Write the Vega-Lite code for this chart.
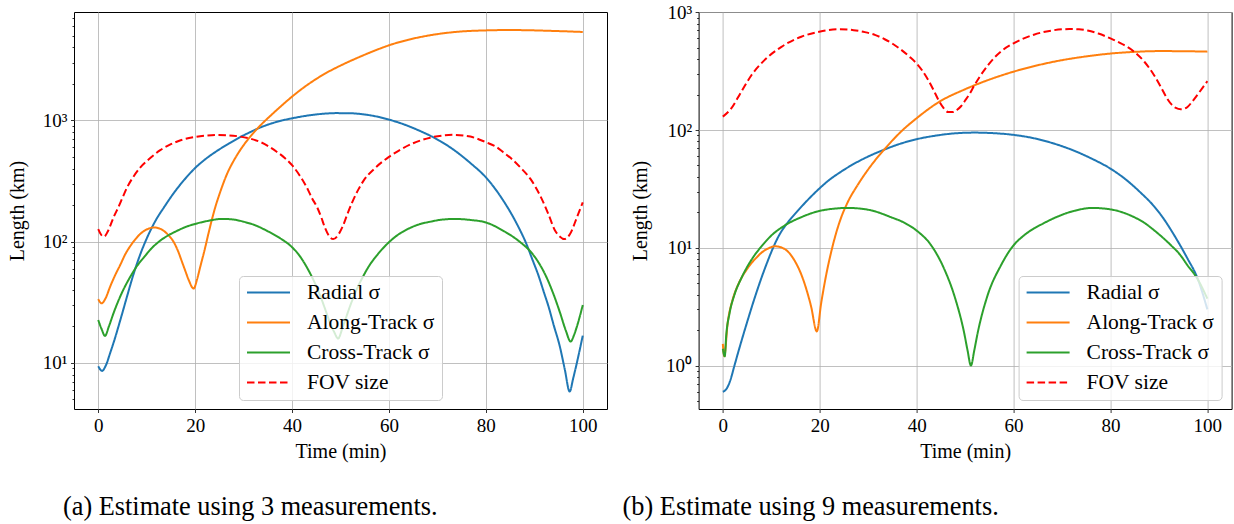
{
  "$schema": "https://vega.github.io/schema/vega-lite/v6.json",
  "background": "white",
  "padding": {"left": 6, "top": 2, "right": 0, "bottom": 0},
  "bounds": "flush",
  "spacing": 91.6,
  "datasets": {
    "a": [
      {"t":0,"v":9.4,"s":"Radial σ"},{"t":0.8,"v":8.6,"s":"Radial σ"},{"t":1.5,"v":9.4,"s":"Radial σ"},{"t":2.5,"v":12.2,"s":"Radial σ"},{"t":3.5,"v":16.2,"s":"Radial σ"},{"t":4.3,"v":20.8,"s":"Radial σ"},{"t":5,"v":26,"s":"Radial σ"},{"t":6,"v":36,"s":"Radial σ"},{"t":7,"v":49.5,"s":"Radial σ"},{"t":8,"v":66,"s":"Radial σ"},{"t":9,"v":85,"s":"Radial σ"},{"t":10,"v":106,"s":"Radial σ"},{"t":11,"v":129,"s":"Radial σ"},{"t":12.2,"v":158,"s":"Radial σ"},{"t":13.5,"v":190,"s":"Radial σ"},{"t":15.6,"v":252,"s":"Radial σ"},{"t":18,"v":332,"s":"Radial σ"},{"t":20,"v":405,"s":"Radial σ"},{"t":22,"v":475,"s":"Radial σ"},{"t":24.5,"v":560,"s":"Radial σ"},{"t":27,"v":645,"s":"Radial σ"},{"t":29.3,"v":728,"s":"Radial σ"},{"t":31.5,"v":805,"s":"Radial σ"},{"t":33.5,"v":875,"s":"Radial σ"},{"t":36,"v":950,"s":"Radial σ"},{"t":38,"v":1000,"s":"Radial σ"},{"t":40,"v":1040,"s":"Radial σ"},{"t":43,"v":1093,"s":"Radial σ"},{"t":46,"v":1130,"s":"Radial σ"},{"t":49,"v":1148,"s":"Radial σ"},{"t":52,"v":1145,"s":"Radial σ"},{"t":55,"v":1118,"s":"Radial σ"},{"t":58,"v":1065,"s":"Radial σ"},{"t":60,"v":1015,"s":"Radial σ"},{"t":62,"v":960,"s":"Radial σ"},{"t":64.4,"v":885,"s":"Radial σ"},{"t":66.5,"v":815,"s":"Radial σ"},{"t":68.5,"v":748,"s":"Radial σ"},{"t":71,"v":660,"s":"Radial σ"},{"t":74,"v":548,"s":"Radial σ"},{"t":76.8,"v":445,"s":"Radial σ"},{"t":80,"v":339,"s":"Radial σ"},{"t":83.6,"v":218,"s":"Radial σ"},{"t":86.4,"v":140,"s":"Radial σ"},{"t":88.5,"v":93,"s":"Radial σ"},{"t":89.5,"v":73,"s":"Radial σ"},{"t":90.9,"v":52,"s":"Radial σ"},{"t":92,"v":38,"s":"Radial σ"},{"t":92.9,"v":29.5,"s":"Radial σ"},{"t":94,"v":20.5,"s":"Radial σ"},{"t":95.3,"v":13.5,"s":"Radial σ"},{"t":96.3,"v":8.8,"s":"Radial σ"},{"t":97.3,"v":5.8,"s":"Radial σ"},{"t":98,"v":7.4,"s":"Radial σ"},{"t":98.8,"v":10.1,"s":"Radial σ"},{"t":100,"v":16.8,"s":"Radial σ"},
      {"t":0,"v":33.6,"s":"Along-Track σ"},{"t":0.7,"v":31,"s":"Along-Track σ"},{"t":1.5,"v":34,"s":"Along-Track σ"},{"t":2.5,"v":43,"s":"Along-Track σ"},{"t":3.5,"v":53,"s":"Along-Track σ"},{"t":4.6,"v":65,"s":"Along-Track σ"},{"t":5.6,"v":79,"s":"Along-Track σ"},{"t":6.7,"v":93,"s":"Along-Track σ"},{"t":7.7,"v":105,"s":"Along-Track σ"},{"t":8.7,"v":116,"s":"Along-Track σ"},{"t":10,"v":126,"s":"Along-Track σ"},{"t":11.5,"v":131,"s":"Along-Track σ"},{"t":12.5,"v":129,"s":"Along-Track σ"},{"t":13.5,"v":123,"s":"Along-Track σ"},{"t":14.5,"v":113,"s":"Along-Track σ"},{"t":15.6,"v":99,"s":"Along-Track σ"},{"t":16.5,"v":83,"s":"Along-Track σ"},{"t":17.3,"v":68,"s":"Along-Track σ"},{"t":18,"v":57,"s":"Along-Track σ"},{"t":18.7,"v":48,"s":"Along-Track σ"},{"t":19.7,"v":41,"s":"Along-Track σ"},{"t":20.4,"v":49,"s":"Along-Track σ"},{"t":21.1,"v":63,"s":"Along-Track σ"},{"t":22,"v":87,"s":"Along-Track σ"},{"t":22.8,"v":119,"s":"Along-Track σ"},{"t":23.6,"v":160,"s":"Along-Track σ"},{"t":24.2,"v":195,"s":"Along-Track σ"},{"t":25,"v":245,"s":"Along-Track σ"},{"t":26.6,"v":363,"s":"Along-Track σ"},{"t":28,"v":468,"s":"Along-Track σ"},{"t":29.3,"v":569,"s":"Along-Track σ"},{"t":30.5,"v":664,"s":"Along-Track σ"},{"t":32,"v":785,"s":"Along-Track σ"},{"t":33.5,"v":912,"s":"Along-Track σ"},{"t":36,"v":1135,"s":"Along-Track σ"},{"t":38,"v":1340,"s":"Along-Track σ"},{"t":40,"v":1570,"s":"Along-Track σ"},{"t":42,"v":1816,"s":"Along-Track σ"},{"t":44.5,"v":2133,"s":"Along-Track σ"},{"t":47,"v":2455,"s":"Along-Track σ"},{"t":50,"v":2831,"s":"Along-Track σ"},{"t":53,"v":3214,"s":"Along-Track σ"},{"t":56,"v":3614,"s":"Along-Track σ"},{"t":60,"v":4159,"s":"Along-Track σ"},{"t":64,"v":4624,"s":"Along-Track σ"},{"t":68.5,"v":5035,"s":"Along-Track σ"},{"t":72,"v":5272,"s":"Along-Track σ"},{"t":76,"v":5445,"s":"Along-Track σ"},{"t":80,"v":5521,"s":"Along-Track σ"},{"t":84,"v":5559,"s":"Along-Track σ"},{"t":88,"v":5546,"s":"Along-Track σ"},{"t":92,"v":5495,"s":"Along-Track σ"},{"t":96,"v":5433,"s":"Along-Track σ"},{"t":100,"v":5358,"s":"Along-Track σ"},
      {"t":0,"v":22.6,"s":"Cross-Track σ"},{"t":0.7,"v":19,"s":"Cross-Track σ"},{"t":1.4,"v":16.7,"s":"Cross-Track σ"},{"t":2.2,"v":20,"s":"Cross-Track σ"},{"t":3.2,"v":26,"s":"Cross-Track σ"},{"t":4.9,"v":38,"s":"Cross-Track σ"},{"t":6.7,"v":52,"s":"Cross-Track σ"},{"t":8,"v":63,"s":"Cross-Track σ"},{"t":9.4,"v":74,"s":"Cross-Track σ"},{"t":11,"v":88,"s":"Cross-Track σ"},{"t":12.8,"v":102,"s":"Cross-Track σ"},{"t":14.5,"v":113,"s":"Cross-Track σ"},{"t":16.3,"v":123,"s":"Cross-Track σ"},{"t":18,"v":132,"s":"Cross-Track σ"},{"t":20,"v":140,"s":"Cross-Track σ"},{"t":22.5,"v":148,"s":"Cross-Track σ"},{"t":25.6,"v":154,"s":"Cross-Track σ"},{"t":28,"v":152,"s":"Cross-Track σ"},{"t":30,"v":146,"s":"Cross-Track σ"},{"t":32.5,"v":136,"s":"Cross-Track σ"},{"t":34.8,"v":123,"s":"Cross-Track σ"},{"t":37.5,"v":107,"s":"Cross-Track σ"},{"t":40,"v":90,"s":"Cross-Track σ"},{"t":41.5,"v":77,"s":"Cross-Track σ"},{"t":43,"v":62,"s":"Cross-Track σ"},{"t":44.5,"v":47.5,"s":"Cross-Track σ"},{"t":45.8,"v":36,"s":"Cross-Track σ"},{"t":46.8,"v":28,"s":"Cross-Track σ"},{"t":47.8,"v":21.6,"s":"Cross-Track σ"},{"t":48.7,"v":18,"s":"Cross-Track σ"},{"t":49.5,"v":15.9,"s":"Cross-Track σ"},{"t":50.5,"v":20,"s":"Cross-Track σ"},{"t":52,"v":29.6,"s":"Cross-Track σ"},{"t":53.3,"v":40,"s":"Cross-Track σ"},{"t":54.7,"v":52,"s":"Cross-Track σ"},{"t":56,"v":64,"s":"Cross-Track σ"},{"t":57.5,"v":77,"s":"Cross-Track σ"},{"t":60,"v":99,"s":"Cross-Track σ"},{"t":62,"v":115,"s":"Cross-Track σ"},{"t":63.7,"v":126,"s":"Cross-Track σ"},{"t":66,"v":138,"s":"Cross-Track σ"},{"t":68.5,"v":146,"s":"Cross-Track σ"},{"t":71,"v":152,"s":"Cross-Track σ"},{"t":73.6,"v":154,"s":"Cross-Track σ"},{"t":76.8,"v":151,"s":"Cross-Track σ"},{"t":80,"v":144,"s":"Cross-Track σ"},{"t":83.6,"v":123,"s":"Cross-Track σ"},{"t":87.1,"v":99,"s":"Cross-Track σ"},{"t":89.2,"v":83,"s":"Cross-Track σ"},{"t":90.5,"v":71,"s":"Cross-Track σ"},{"t":92.6,"v":50,"s":"Cross-Track σ"},{"t":94,"v":36.5,"s":"Cross-Track σ"},{"t":95.3,"v":26,"s":"Cross-Track σ"},{"t":96.5,"v":18.5,"s":"Cross-Track σ"},{"t":97.5,"v":15,"s":"Cross-Track σ"},{"t":98.2,"v":17,"s":"Cross-Track σ"},{"t":98.8,"v":20,"s":"Cross-Track σ"},{"t":100,"v":30,"s":"Cross-Track σ"},
      {"t":0,"v":127,"s":"FOV size"},{"t":0.6,"v":114,"s":"FOV size"},{"t":1.2,"v":110,"s":"FOV size"},{"t":2,"v":122,"s":"FOV size"},{"t":3.2,"v":160,"s":"FOV size"},{"t":4.3,"v":198,"s":"FOV size"},{"t":5,"v":230,"s":"FOV size"},{"t":6,"v":282,"s":"FOV size"},{"t":7.3,"v":345,"s":"FOV size"},{"t":8.7,"v":410,"s":"FOV size"},{"t":10.5,"v":480,"s":"FOV size"},{"t":12.8,"v":568,"s":"FOV size"},{"t":15,"v":636,"s":"FOV size"},{"t":17,"v":686,"s":"FOV size"},{"t":20,"v":730,"s":"FOV size"},{"t":22.5,"v":750,"s":"FOV size"},{"t":24.5,"v":757,"s":"FOV size"},{"t":27,"v":752,"s":"FOV size"},{"t":29.3,"v":735,"s":"FOV size"},{"t":31.5,"v":705,"s":"FOV size"},{"t":33.5,"v":662,"s":"FOV size"},{"t":35.2,"v":610,"s":"FOV size"},{"t":36.9,"v":549,"s":"FOV size"},{"t":38.5,"v":490,"s":"FOV size"},{"t":40,"v":427,"s":"FOV size"},{"t":41.5,"v":355,"s":"FOV size"},{"t":43,"v":282,"s":"FOV size"},{"t":44.2,"v":225,"s":"FOV size"},{"t":45.1,"v":195,"s":"FOV size"},{"t":46,"v":160,"s":"FOV size"},{"t":46.8,"v":130,"s":"FOV size"},{"t":47.6,"v":112,"s":"FOV size"},{"t":48.5,"v":105,"s":"FOV size"},{"t":49.6,"v":115,"s":"FOV size"},{"t":50.5,"v":135,"s":"FOV size"},{"t":51.4,"v":168,"s":"FOV size"},{"t":52.5,"v":215,"s":"FOV size"},{"t":53.7,"v":270,"s":"FOV size"},{"t":54.8,"v":320,"s":"FOV size"},{"t":57,"v":400,"s":"FOV size"},{"t":60,"v":500,"s":"FOV size"},{"t":62.5,"v":578,"s":"FOV size"},{"t":65,"v":648,"s":"FOV size"},{"t":68.5,"v":720,"s":"FOV size"},{"t":71,"v":750,"s":"FOV size"},{"t":73.3,"v":760,"s":"FOV size"},{"t":76.8,"v":735,"s":"FOV size"},{"t":80,"v":661,"s":"FOV size"},{"t":82,"v":610,"s":"FOV size"},{"t":83.6,"v":546,"s":"FOV size"},{"t":85.5,"v":475,"s":"FOV size"},{"t":87.1,"v":410,"s":"FOV size"},{"t":89.2,"v":329,"s":"FOV size"},{"t":91.2,"v":240,"s":"FOV size"},{"t":92.9,"v":169,"s":"FOV size"},{"t":94.3,"v":123,"s":"FOV size"},{"t":95.3,"v":110,"s":"FOV size"},{"t":96.2,"v":105,"s":"FOV size"},{"t":97.4,"v":116,"s":"FOV size"},{"t":98.8,"v":159,"s":"FOV size"},{"t":100,"v":211,"s":"FOV size"}
    ],
    "b": [
      {"t":0,"v":0.6,"s":"Radial σ"},{"t":0.7,"v":0.63,"s":"Radial σ"},{"t":1.5,"v":0.74,"s":"Radial σ"},{"t":2.4,"v":1.0,"s":"Radial σ"},{"t":3.2,"v":1.31,"s":"Radial σ"},{"t":4,"v":1.7,"s":"Radial σ"},{"t":5,"v":2.33,"s":"Radial σ"},{"t":6,"v":3.17,"s":"Radial σ"},{"t":7,"v":4.25,"s":"Radial σ"},{"t":8,"v":5.6,"s":"Radial σ"},{"t":9,"v":7.24,"s":"Radial σ"},{"t":10,"v":9.2,"s":"Radial σ"},{"t":11,"v":11.4,"s":"Radial σ"},{"t":12,"v":13.6,"s":"Radial σ"},{"t":13,"v":15.6,"s":"Radial σ"},{"t":14,"v":17.6,"s":"Radial σ"},{"t":15.5,"v":20.7,"s":"Radial σ"},{"t":17,"v":24.2,"s":"Radial σ"},{"t":18.5,"v":28,"s":"Radial σ"},{"t":20,"v":32.1,"s":"Radial σ"},{"t":22,"v":37.8,"s":"Radial σ"},{"t":24,"v":43.2,"s":"Radial σ"},{"t":26.5,"v":50.1,"s":"Radial σ"},{"t":30,"v":59.6,"s":"Radial σ"},{"t":33.4,"v":68.4,"s":"Radial σ"},{"t":36,"v":75,"s":"Radial σ"},{"t":40,"v":83.6,"s":"Radial σ"},{"t":44,"v":89.7,"s":"Radial σ"},{"t":48,"v":93.8,"s":"Radial σ"},{"t":52,"v":95.1,"s":"Radial σ"},{"t":56,"v":94,"s":"Radial σ"},{"t":60,"v":91,"s":"Radial σ"},{"t":64,"v":85.5,"s":"Radial σ"},{"t":68,"v":77.5,"s":"Radial σ"},{"t":72,"v":68,"s":"Radial σ"},{"t":76,"v":57.5,"s":"Radial σ"},{"t":80,"v":47,"s":"Radial σ"},{"t":83,"v":38.5,"s":"Radial σ"},{"t":86,"v":30,"s":"Radial σ"},{"t":89,"v":22.5,"s":"Radial σ"},{"t":91,"v":17.6,"s":"Radial σ"},{"t":93,"v":13.1,"s":"Radial σ"},{"t":95.9,"v":8.1,"s":"Radial σ"},{"t":97.9,"v":5.6,"s":"Radial σ"},{"t":100,"v":3.0,"s":"Radial σ"},
      {"t":0,"v":1.53,"s":"Along-Track σ"},{"t":0.3,"v":1.2,"s":"Along-Track σ"},{"t":1,"v":2.3,"s":"Along-Track σ"},{"t":2,"v":3.6,"s":"Along-Track σ"},{"t":3,"v":4.7,"s":"Along-Track σ"},{"t":4,"v":5.7,"s":"Along-Track σ"},{"t":5,"v":6.6,"s":"Along-Track σ"},{"t":6,"v":7.5,"s":"Along-Track σ"},{"t":7,"v":8.3,"s":"Along-Track σ"},{"t":8,"v":9.1,"s":"Along-Track σ"},{"t":9,"v":9.7,"s":"Along-Track σ"},{"t":10.8,"v":10.3,"s":"Along-Track σ"},{"t":12.7,"v":9.8,"s":"Along-Track σ"},{"t":14.8,"v":7.8,"s":"Along-Track σ"},{"t":16.5,"v":5.5,"s":"Along-Track σ"},{"t":18.2,"v":3.2,"s":"Along-Track σ"},{"t":19.4,"v":1.95,"s":"Along-Track σ"},{"t":20.3,"v":3.4,"s":"Along-Track σ"},{"t":21.3,"v":5.8,"s":"Along-Track σ"},{"t":22.7,"v":10.5,"s":"Along-Track σ"},{"t":24.1,"v":16.6,"s":"Along-Track σ"},{"t":25.8,"v":24.5,"s":"Along-Track σ"},{"t":27.8,"v":34,"s":"Along-Track σ"},{"t":30.6,"v":50,"s":"Along-Track σ"},{"t":33.4,"v":69,"s":"Along-Track σ"},{"t":36.9,"v":98,"s":"Along-Track σ"},{"t":40,"v":126,"s":"Along-Track σ"},{"t":44.5,"v":172,"s":"Along-Track σ"},{"t":50,"v":222,"s":"Along-Track σ"},{"t":55,"v":268,"s":"Along-Track σ"},{"t":60,"v":313,"s":"Along-Track σ"},{"t":65,"v":355,"s":"Along-Track σ"},{"t":70,"v":392,"s":"Along-Track σ"},{"t":75,"v":422,"s":"Along-Track σ"},{"t":80,"v":446,"s":"Along-Track σ"},{"t":85,"v":461,"s":"Along-Track σ"},{"t":90,"v":468,"s":"Along-Track σ"},{"t":95,"v":467,"s":"Along-Track σ"},{"t":100,"v":463,"s":"Along-Track σ"},
      {"t":0,"v":1.39,"s":"Cross-Track σ"},{"t":0.4,"v":1.2,"s":"Cross-Track σ"},{"t":0.7,"v":1.8,"s":"Cross-Track σ"},{"t":1.4,"v":2.8,"s":"Cross-Track σ"},{"t":2.4,"v":4.0,"s":"Cross-Track σ"},{"t":3.8,"v":5.5,"s":"Cross-Track σ"},{"t":5.9,"v":7.9,"s":"Cross-Track σ"},{"t":7.9,"v":10.2,"s":"Cross-Track σ"},{"t":10,"v":12.7,"s":"Cross-Track σ"},{"t":12.8,"v":15.5,"s":"Cross-Track σ"},{"t":16.2,"v":18.2,"s":"Cross-Track σ"},{"t":19.6,"v":20.4,"s":"Cross-Track σ"},{"t":22.5,"v":21.4,"s":"Cross-Track σ"},{"t":25.8,"v":21.8,"s":"Cross-Track σ"},{"t":28.5,"v":21.5,"s":"Cross-Track σ"},{"t":30.6,"v":20.8,"s":"Cross-Track σ"},{"t":34.7,"v":18.2,"s":"Cross-Track σ"},{"t":37.5,"v":16.3,"s":"Cross-Track σ"},{"t":40,"v":14,"s":"Cross-Track σ"},{"t":43,"v":10.5,"s":"Cross-Track σ"},{"t":45.7,"v":6.6,"s":"Cross-Track σ"},{"t":47.8,"v":3.9,"s":"Cross-Track σ"},{"t":49.8,"v":1.9,"s":"Cross-Track σ"},{"t":50.5,"v":1.35,"s":"Cross-Track σ"},{"t":51.2,"v":1.0,"s":"Cross-Track σ"},{"t":51.9,"v":1.35,"s":"Cross-Track σ"},{"t":52.6,"v":1.9,"s":"Cross-Track σ"},{"t":54.6,"v":3.9,"s":"Cross-Track σ"},{"t":57.4,"v":7.1,"s":"Cross-Track σ"},{"t":60,"v":10.5,"s":"Cross-Track σ"},{"t":62,"v":12.6,"s":"Cross-Track σ"},{"t":64.2,"v":14.6,"s":"Cross-Track σ"},{"t":66,"v":16,"s":"Cross-Track σ"},{"t":68.4,"v":17.9,"s":"Cross-Track σ"},{"t":72.5,"v":20.6,"s":"Cross-Track σ"},{"t":76.3,"v":21.8,"s":"Cross-Track σ"},{"t":80,"v":21.2,"s":"Cross-Track σ"},{"t":84.9,"v":18.2,"s":"Cross-Track σ"},{"t":87,"v":16.3,"s":"Cross-Track σ"},{"t":89,"v":14.1,"s":"Cross-Track σ"},{"t":91,"v":12,"s":"Cross-Track σ"},{"t":92.5,"v":10.5,"s":"Cross-Track σ"},{"t":94.3,"v":8.8,"s":"Cross-Track σ"},{"t":95.9,"v":7.1,"s":"Cross-Track σ"},{"t":97.9,"v":5.5,"s":"Cross-Track σ"},{"t":100,"v":3.7,"s":"Cross-Track σ"},
      {"t":0,"v":130,"s":"FOV size"},{"t":1.7,"v":152,"s":"FOV size"},{"t":3.8,"v":211,"s":"FOV size"},{"t":5.9,"v":292,"s":"FOV size"},{"t":8.6,"v":392,"s":"FOV size"},{"t":12.1,"v":509,"s":"FOV size"},{"t":16.2,"v":620,"s":"FOV size"},{"t":19.9,"v":683,"s":"FOV size"},{"t":24,"v":717,"s":"FOV size"},{"t":27,"v":705,"s":"FOV size"},{"t":29.3,"v":678,"s":"FOV size"},{"t":31.5,"v":640,"s":"FOV size"},{"t":33.4,"v":590,"s":"FOV size"},{"t":35.2,"v":535,"s":"FOV size"},{"t":36.9,"v":477,"s":"FOV size"},{"t":38.5,"v":420,"s":"FOV size"},{"t":40,"v":367,"s":"FOV size"},{"t":41.2,"v":318,"s":"FOV size"},{"t":42.4,"v":265,"s":"FOV size"},{"t":43.5,"v":218,"s":"FOV size"},{"t":44.5,"v":180,"s":"FOV size"},{"t":45.5,"v":155,"s":"FOV size"},{"t":46.5,"v":142,"s":"FOV size"},{"t":47.5,"v":142,"s":"FOV size"},{"t":48.3,"v":148,"s":"FOV size"},{"t":49.2,"v":160,"s":"FOV size"},{"t":50,"v":178,"s":"FOV size"},{"t":51,"v":205,"s":"FOV size"},{"t":51.8,"v":235,"s":"FOV size"},{"t":53,"v":283,"s":"FOV size"},{"t":54.6,"v":350,"s":"FOV size"},{"t":56,"v":410,"s":"FOV size"},{"t":57.4,"v":465,"s":"FOV size"},{"t":60,"v":545,"s":"FOV size"},{"t":62,"v":597,"s":"FOV size"},{"t":64.2,"v":645,"s":"FOV size"},{"t":66.5,"v":683,"s":"FOV size"},{"t":68.4,"v":705,"s":"FOV size"},{"t":71.5,"v":720,"s":"FOV size"},{"t":73.5,"v":717,"s":"FOV size"},{"t":75.3,"v":700,"s":"FOV size"},{"t":77.5,"v":660,"s":"FOV size"},{"t":80,"v":600,"s":"FOV size"},{"t":82.5,"v":535,"s":"FOV size"},{"t":84.9,"v":462,"s":"FOV size"},{"t":87,"v":380,"s":"FOV size"},{"t":89,"v":292,"s":"FOV size"},{"t":90.5,"v":228,"s":"FOV size"},{"t":91.7,"v":185,"s":"FOV size"},{"t":92.6,"v":165,"s":"FOV size"},{"t":93.5,"v":154,"s":"FOV size"},{"t":94.5,"v":150,"s":"FOV size"},{"t":95.3,"v":152,"s":"FOV size"},{"t":95.9,"v":157,"s":"FOV size"},{"t":96.9,"v":175,"s":"FOV size"},{"t":97.9,"v":198,"s":"FOV size"},{"t":99,"v":228,"s":"FOV size"},{"t":100,"v":260,"s":"FOV size"}
    ]
  },
  "hconcat": [
    {
      "width": 533,
      "height": 397,
      "data": {"name": "a"},
      "mark": {"type": "line", "strokeWidth": 2, "interpolate": "monotone"},
      "encoding": {
        "x": {"field": "t", "type": "quantitative", "scale": {"domain": [-5, 105], "nice": false, "zero": false},
              "axis": {"values": [0, 20, 40, 60, 80, 100], "title": "Time (min)"}},
        "y": {"field": "v", "type": "quantitative",
              "scale": {"type": "log", "domain": [4.17, 7830], "nice": false},
              "axis": {"title": "Length (km)",
                       "values": [5,6,7,8,9,10,20,30,40,50,60,70,80,90,100,200,300,400,500,600,700,800,900,1000,2000,3000,4000,5000,6000,7000],
                       "labelExpr": "datum.value == 1000 ? '10³' : datum.value == 100 ? '10²' : datum.value == 10 ? '10¹' : datum.value == 1 ? '10⁰' : ''",
                       "tickSize": {"condition": {"test": "indexof([1,10,100,1000], datum.value) >= 0", "value": 3.5}, "value": 2},
                       "gridOpacity": {"condition": {"test": "indexof([1,10,100,1000], datum.value) >= 0", "value": 1}, "value": 0}}},
        "color": {"field": "s", "type": "nominal",
                  "scale": {"domain": ["Radial σ", "Along-Track σ", "Cross-Track σ", "FOV size"], "range": ["#1f77b4", "#ff7f0e", "#2ca02c", "#ff0000"]},
                  "legend": {"legendX": 165, "legendY": 264, "title": null}},
        "strokeDash": {"field": "s", "type": "nominal",
                  "scale": {"domain": ["Radial σ", "Along-Track σ", "Cross-Track σ", "FOV size"], "range": [[1, 0], [1, 0], [1, 0], [7.5, 3.5]]},
                  "legend": {"legendX": 165, "legendY": 264, "title": null}}
      },
      "title": {"text": "(a) Estimate using 3 measurements.", "orient": "bottom", "anchor": "start", "frame": "group", "dx": -11, "offset": 33}
    },
    {
      "width": 533,
      "height": 397,
      "data": {"name": "b"},
      "mark": {"type": "line", "strokeWidth": 2, "interpolate": "monotone"},
      "encoding": {
        "x": {"field": "t", "type": "quantitative", "scale": {"domain": [-5, 105], "nice": false, "zero": false},
              "axis": {"values": [0, 20, 40, 60, 80, 100], "title": "Time (min)"}},
        "y": {"field": "v", "type": "quantitative",
              "scale": {"type": "log", "domain": [0.428, 1005], "nice": false},
              "axis": {"title": "Length (km)",
                       "values": [0.5,0.6,0.7,0.8,0.9,1,2,3,4,5,6,7,8,9,10,20,30,40,50,60,70,80,90,100,200,300,400,500,600,700,800,900,1000],
                       "labelExpr": "datum.value == 1000 ? '10³' : datum.value == 100 ? '10²' : datum.value == 10 ? '10¹' : datum.value == 1 ? '10⁰' : ''",
                       "tickSize": {"condition": {"test": "indexof([1,10,100,1000], datum.value) >= 0", "value": 3.5}, "value": 2},
                       "gridOpacity": {"condition": {"test": "indexof([1,10,100,1000], datum.value) >= 0", "value": 1}, "value": 0}}},
        "color": {"field": "s", "type": "nominal",
                  "scale": {"domain": ["Radial σ", "Along-Track σ", "Cross-Track σ", "FOV size"], "range": ["#1f77b4", "#ff7f0e", "#2ca02c", "#ff0000"]},
                  "legend": {"legendX": 320, "legendY": 264, "title": null}},
        "strokeDash": {"field": "s", "type": "nominal",
                  "scale": {"domain": ["Radial σ", "Along-Track σ", "Cross-Track σ", "FOV size"], "range": [[1, 0], [1, 0], [1, 0], [7.5, 3.5]]},
                  "legend": {"legendX": 320, "legendY": 264, "title": null}}
      },
      "title": {"text": "(b) Estimate using 9 measurements.", "orient": "bottom", "anchor": "start", "frame": "group", "dx": -76, "offset": 33}
    }
  ],
  "resolve": {"scale": {"x": "independent", "y": "independent", "color": "independent", "strokeDash": "independent"},
              "legend": {"color": "independent", "strokeDash": "independent"}},
  "config": {
    "font": "Liberation Serif",
    "view": {"stroke": "#000000", "strokeWidth": 1},
    "axis": {"domain": false, "grid": true, "gridColor": "#b0b0b0", "gridWidth": 0.8,
             "tickColor": "#000000", "tickWidth": 0.8, "tickSize": 3.5,
             "labelColor": "#000000", "labelFont": "Liberation Serif", "labelFontSize": 19, "labelPadding": 3.5,
             "labelFlush": false, "labelOverlap": false, "labelBound": false,
             "titleFont": "Liberation Serif", "titleFontSize": 20, "titleFontWeight": "normal", "titleColor": "#000000"},
    "axisY": {"titlePadding": 15},
    "axisX": {"titlePadding": 6},
    "legend": {"orient": "none", "symbolType": "stroke", "symbolSize": 1849, "symbolStrokeWidth": 2,
               "clipHeight": 19, "rowPadding": 8, "labelOffset": 16, "labelFontSize": 21.5,
               "labelFont": "Liberation Serif", "labelColor": "#000000", "padding": 7,
               "fillColor": "rgba(255,255,255,0.8)", "strokeColor": "#cccccc", "cornerRadius": 4},
    "title": {"font": "Liberation Serif", "fontSize": 26.3, "fontWeight": "normal", "color": "#000000"}
  }
}
